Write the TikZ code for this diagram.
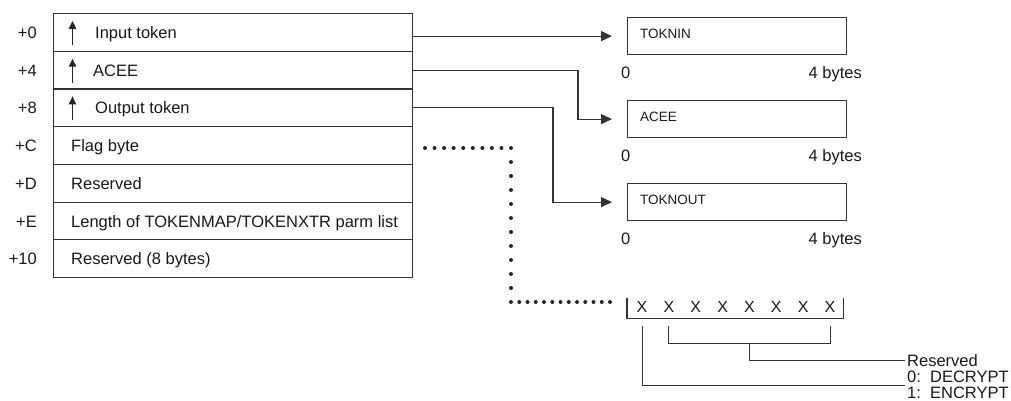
\documentclass[tikz,border=0pt]{standalone}
\usepackage{fontspec}
\setmainfont{Liberation Sans}
\usetikzlibrary{arrows.meta,calc}
\begin{document}
\begin{tikzpicture}[x=1pt,y=-1pt,
  lc/.style={draw=black!80, line width=1.2pt},
  rowbox/.style={lc, minimum width=359pt, minimum height=37.71pt, inner sep=0pt, anchor=north west},
  rbox/.style={lc, minimum width=219pt, minimum height=37pt, inner sep=0pt, anchor=north west},
  txt/.style={inner sep=0pt, text=black!90, font=\fontsize{16.5}{19}\selectfont},
  stxt/.style={inner sep=0pt, text=black!90, font=\fontsize{13.5}{16}\selectfont},
  conn/.style={lc, -{Triangle[length=11pt,width=10pt]}, shorten >=15pt},
  uparr/.style={draw=black!85, line width=1pt, -{Triangle[length=8pt,width=7.5pt]}},
  dotc/.style={fill=black!85},
  lead/.style={draw=black!80, line width=1pt}
]
\useasboundingbox (0,0) rectangle (1011,400);

% left table
\foreach \i/\off/\lab/\lx/\ar in {1/{+0}/{Input token}/95/1, 2/{+4}/{ACEE}/93/1, 3/{+8}/{Output token}/95/1, 4/{+C}/{Flag byte}/71/0, 5/{+D}/{Reserved}/71/0, 6/{+E}/{Length of TOKENMAP{/}TOKENXTR parm list}/71/0, 7/{+10}/{Reserved (8 bytes)}/71/0} {
  \pgfmathsetmacro{\top}{13+37.71*(\i-1)}
  \node[rowbox] (r\i) at (53,\top) {};
  \node[txt, anchor=base east] (o\i) at (37,\top+25.5) {\off};
  \node[txt, anchor=base west] (t\i) at (\lx,\top+25.5) {\lab};
  \ifnum\ar=1
    \draw[uparr] (72.5,\top+32) -- (72.5,\top+8);
  \fi
}

% right boxes
\foreach \n/\y/\lab in {tin/17/TOKNIN, acee/100/ACEE, tout/183/TOKNOUT} {
  \node[rbox] (\n) at (627,\y) {};
  \node[stxt, anchor=base west] (\n l) at (640,\y+21) {\lab};
  \node[txt, anchor=base west] (\n z) at (621,\y+61) {0};
  \node[txt, anchor=base east] (\n b) at (862,\y+61) {4 bytes};
}

% connectors
\coordinate (b2) at (578,0);
\coordinate (b3) at (553,0);
\draw[conn] (r1.east |- tin.west) -- (tin.west);
\draw[conn] (r2.east) -- (r2.east -| b2) |- (acee.west);
\draw[conn] (r3.east) -- (r3.east -| b3) |- (tout.west);

% bit field
\node[minimum width=216pt, minimum height=20pt, inner sep=0pt, anchor=north west] (bits) at (627,298) {};
\draw[lc] (bits.north west) -- (bits.south west) -- (bits.south east) -- (bits.north east);
\foreach \i in {0,...,7} {
  \node[txt, anchor=base, font=\fontsize{16}{18}\selectfont] (x\i) at ({642+26.86*\i},312.5) {X};
}

% dotted connector
\coordinate (d0) at (425,148);
\coordinate (d1) at (511,148);
\coordinate (d2) at (511,302);
\coordinate (d3) at (610,302);
\foreach \i in {0,...,9} \fill[dotc] ($(d0)!\i/9!(d1)$) circle (2pt);
\foreach \i in {1,...,11} \fill[dotc] ($(d1)!\i/11!(d2)$) circle (2pt);
\foreach \i in {1,...,12} \fill[dotc] ($(d2)!\i/12!(d3)$) circle (2pt);

% descriptions
\node[txt, anchor=base west] (res) at (907,366.5) {Reserved};
\node[txt, anchor=base west] (dec) at (907,382.5) {0:\ \ DECRYPT};
\node[txt, anchor=base west] (enc) at (907,398.5) {1:\ \ ENCRYPT};

% leads
\coordinate (lt) at (0,326);
\coordinate (lb) at (0,343);
\coordinate (lm) at (749,0);
\draw[lead] (x0 |- lt) |- ([xshift=-2pt,yshift=-2.5pt]dec.south west);
\draw[lead] (x1 |- lt) -- (x1 |- lb) -- (x7 |- lb) -- (x7 |- lt);
\draw[lead] (lm |- lb) |- ([xshift=-2pt]res.west);
\end{tikzpicture}
\end{document}
